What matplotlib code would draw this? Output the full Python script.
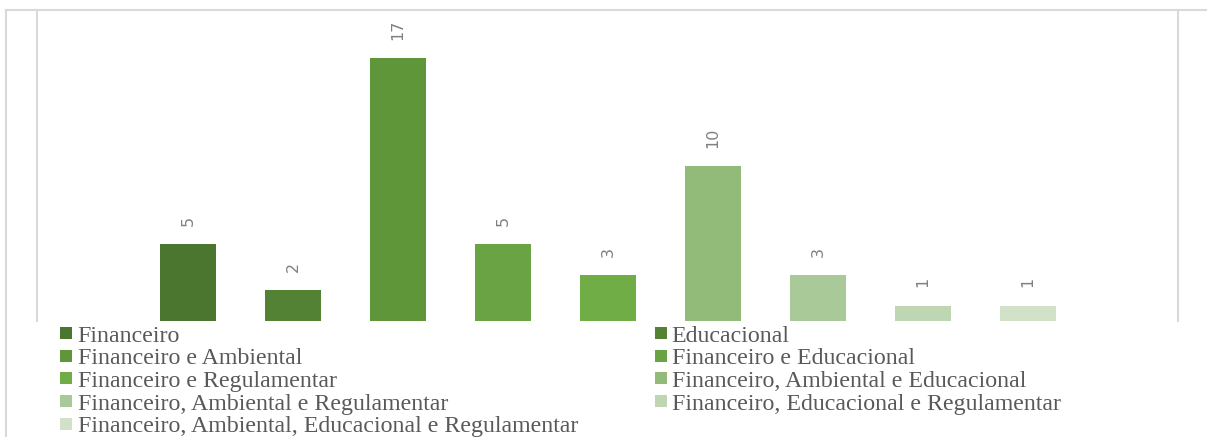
import matplotlib
matplotlib.use("Agg")
import matplotlib.pyplot as plt
from matplotlib.patches import Rectangle
from matplotlib.lines import Line2D

categories = [
    "Financeiro",
    "Educacional",
    "Financeiro e Ambiental",
    "Financeiro e Educacional",
    "Financeiro e Regulamentar",
    "Financeiro, Ambiental e Educacional",
    "Financeiro, Ambiental e Regulamentar",
    "Financeiro, Educacional e Regulamentar",
    "Financeiro, Ambiental, Educacional e Regulamentar",
]
values = [5, 2, 17, 5, 3, 10, 3, 1, 1]
colors = ["#4B7630", "#548235", "#5F963A", "#6AA343", "#70AD47",
          "#92BB7A", "#A9CA98", "#BFD6B2", "#D2E2C8"]

W, H, DPI = 1207, 437, 100
fig = plt.figure(figsize=(W / DPI, H / DPI), dpi=DPI)
fig.patch.set_facecolor("white")

def fx(px):
    return px / W

def fy(py):
    return 1 - py / H

# plot area
left, right, top, bottom = 37, 1178, 10, 321
ax = fig.add_axes([fx(left), fy(bottom), fx(right - left), (bottom - top) / H])
ax.set_facecolor("none")

x = list(range(len(values)))
ax.bar(x, values, width=0.533, color=colors, zorder=2)
ax.set_xlim(-1.438, 9.429)
ax.set_ylim(0, 20.1)

for xi, v in zip(x, values):
    ax.annotate(str(v), (xi, v), xytext=(0, 13), textcoords="offset points",
                ha="center", va="bottom", rotation=90, color="#808080",
                fontsize=11.5, family="DejaVu Sans")

ax.set_xticks([])
ax.set_yticks([])
for s in ["top", "bottom"]:
    ax.spines[s].set_visible(False)
for s in ["left", "right"]:
    ax.spines[s].set_color("#D9D9D9")
    ax.spines[s].set_linewidth(1.5)

# chart border
border = "#D9D9D9"
fig.add_artist(Line2D([fx(6), fx(1207)], [fy(10), fy(10)], color=border,
                      lw=1.5, transform=fig.transFigure))
fig.add_artist(Line2D([fx(6), fx(6)], [fy(10), fy(437)], color=border,
                      lw=1.5, transform=fig.transFigure))

# legend, row-major in two columns
col_marker_x = [60, 655]
col_text_x = [77.5, 671.5]
baselines = [341.5, 364.2, 386.9, 409.6, 432.3]
for i, (name, c) in enumerate(zip(categories, colors)):
    row, col = divmod(i, 2)
    b = baselines[row]
    fig.add_artist(Rectangle((fx(col_marker_x[col]), fy(b - 2.5)),
                             12 / W, 12 / H, facecolor=c, edgecolor="none",
                             transform=fig.transFigure))
    fig.text(fx(col_text_x[col]), fy(b), name, ha="left", va="baseline",
             fontsize=17.2, color="#595959", family="Liberation Serif")

fig.savefig("out.png", dpi=DPI, facecolor="white")
